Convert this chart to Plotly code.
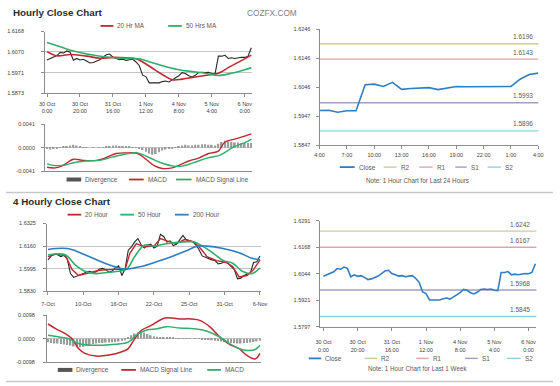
import plotly.graph_objects as go

W, H = 560, 386
FONT = "Liberation Sans, Arial, sans-serif"

# ---------------- colours ----------------
RED = "#c0282d"
GREEN = "#2eaf6a"
BLUE = "#2f7dc2"
BLACK = "#262626"
LEVEL_COLORS = ["#cccc99", "#d9a9a9", "#a59cc6", "#8ed0e3"]
LEVEL_NAMES = ["R2", "R1", "S1", "S2"]

# ---------------- hourly (last week) data ----------------
hours_w = list(range(0, 125, 2))
close_w = [1.6032, 1.6039, 1.6045, 1.6053, 1.6068, 1.6065, 1.6075, 1.6069, 1.6030, 1.6039,
           1.6032, 1.6035, 1.6027, 1.6017, 1.6020, 1.6027, 1.6033, 1.6045, 1.6057, 1.6060,
           1.6045, 1.6039, 1.6033, 1.6035, 1.6030, 1.6033, 1.6035, 1.6022, 1.6004, 1.5959,
           1.5952, 1.5922, 1.5922, 1.5925, 1.5922, 1.5928, 1.5931, 1.5926, 1.5935, 1.5946,
           1.5956, 1.5971, 1.5967, 1.5956, 1.5950, 1.5958, 1.5971, 1.5973, 1.5971, 1.5973,
           1.5967, 1.5965, 1.6050, 1.6050, 1.6054, 1.6039, 1.6042, 1.6039, 1.6042, 1.6045,
           1.6044, 1.6050, 1.6090]
week_tickvals = [0, 20, 40, 60, 80, 100, 120]
week_ticktext = ["30 Oct<br>0:00", "30 Oct<br>20:00", "31 Oct<br>16:00", "1 Nov<br>12:00",
                 "4 Nov<br>8:00", "5 Nov<br>4:00", "6 Nov<br>0:00"]

ma20_hours = [0, 6, 14, 24, 32, 40, 48, 54, 58, 64, 70, 76, 82, 90, 98, 104, 110, 116, 124]
ma20_vals = [1.6072, 1.6052, 1.6058, 1.6050, 1.6040, 1.6044, 1.6042, 1.6038, 1.6022, 1.5992,
             1.5962, 1.5937, 1.5940, 1.5950, 1.5960, 1.5968, 1.5995, 1.6020, 1.6055]
ma50_hours = [0, 8, 16, 26, 36, 46, 56, 64, 72, 80, 88, 96, 104, 112, 120, 124]
ma50_vals = [1.6115, 1.6095, 1.6075, 1.6058, 1.6046, 1.6040, 1.6037, 1.6018, 1.6000, 1.5985,
             1.5976, 1.5968, 1.5957, 1.5968, 1.5985, 1.5995]
p1_ticks = [1.5873, 1.5971, 1.6070, 1.6168]

macd_h_hours = [0, 5, 10, 16, 22, 30, 36, 42, 48, 55, 60, 65, 70, 76, 82, 86, 92, 98, 104, 108,
                114, 120, 124]
macd_h = [-0.0034, -0.0035, -0.0030, -0.0020, -0.0022, -0.0022, -0.0017, -0.0010, -0.0009,
          -0.0010, -0.0020, -0.0031, -0.0036, -0.0035, -0.0028, -0.0023, -0.0018, -0.0010,
          -0.0006, 0.0010, 0.0015, 0.0020, 0.0024]
signal_h_hours = [0, 5, 11, 16, 24, 32, 40, 48, 55, 62, 70, 77, 82, 89, 97, 105, 113, 121, 124]
signal_h = [-0.0028, -0.0031, -0.0030, -0.0026, -0.0023, -0.0022, -0.0016, -0.0011, -0.0009,
            -0.0017, -0.0027, -0.0032, -0.0032, -0.0026, -0.0018, -0.0013, 0.0001, 0.0010, 0.0015]
div_h = [-0.0002, -0.0003, -0.0002, -0.0001, 0.0001, 0.0002, 0.0003, 0.0004,
         0.0005, 0.0004, 0.0002, 0.0001, 0.0001, 0.0000, 0.0001, 0.0000,
         0.0001, 0.0001, 0.0002, 0.0003, 0.0004, 0.0004, 0.0003, 0.0003,
         0.0002, 0.0002, 0.0001, 0.0001, -0.0001, -0.0004, -0.0007, -0.0010,
         -0.0012, -0.0011, -0.0008, -0.0005, -0.0003, -0.0002, -0.0001, 0.0001,
         0.0003, 0.0004, 0.0005, 0.0004, 0.0004, 0.0005, 0.0005, 0.0006,
         0.0006, 0.0005, 0.0005, 0.0004, 0.0007, 0.0010, 0.0012, 0.0011,
         0.0010, 0.0009, 0.0009, 0.0008, 0.0008, 0.0008, 0.0008]
p2_ticks = [-0.0041, 0.0, 0.0041]
p2_ticktext = ["-0.0041", "0.0000", "0.0041"]

# ---------------- last 24 hours ----------------
hours_24 = list(range(0, 25))
close_24 = [1.5966, 1.5967, 1.5960, 1.5965, 1.5965, 1.6055, 1.6057, 1.6049, 1.6063, 1.6039,
            1.6042, 1.6044, 1.6045, 1.6038, 1.6044, 1.6049, 1.6048, 1.6048, 1.6049, 1.6048,
            1.6049, 1.6049, 1.6074, 1.6090, 1.6095]
h24_tickvals = [0, 3, 6, 9, 12, 15, 18, 21, 24]
h24_ticktext = ["4:00", "7:00", "10:00", "13:00", "16:00", "19:00", "22:00", "1:00", "4:00"]
p3_ticks = [1.5847, 1.5947, 1.6046, 1.6146, 1.6246]
levels_24 = [1.6196, 1.6143, 1.5993, 1.5896]

# ---------------- 4 hourly data ----------------
bars_4h = list(range(0, 133, 2))
close_4h = [1.6060, 1.6089, 1.6103, 1.6098, 1.6084, 1.6093, 1.6065, 1.5960, 1.5932, 1.5941,
            1.5951, 1.5960, 1.5974, 1.5977, 1.5965, 1.5974, 1.5993, 1.5998, 1.5989, 1.5970,
            1.5979, 1.6003, 1.6017, 1.5946, 1.5993, 1.6131, 1.6155, 1.6191, 1.6215, 1.6170,
            1.6146, 1.6167, 1.6174, 1.6146, 1.6160, 1.6246, 1.6231, 1.6189, 1.6198, 1.6165,
            1.6174, 1.6208, 1.6239, 1.6208, 1.6198, 1.6193, 1.6170, 1.6136, 1.6089, 1.6079,
            1.6065, 1.6060, 1.6055, 1.6031, 1.6036, 1.6046, 1.6036, 1.6012, 1.5989, 1.5922,
            1.5927, 1.5946, 1.5953, 1.5965, 1.6041, 1.6046, 1.6089]
d4_tickvals = [0, 22, 44, 66, 88, 110, 132]
d4_ticktext = ["7-Oct", "10-Oct", "16-Oct", "22-Oct", "25-Oct", "31-Oct", "6-Nov"]
p4_ticks = [1.5830, 1.5995, 1.6160, 1.6325]

ma20h_bars = [0, 5, 11, 15, 19, 26, 32, 38, 44, 48, 51, 55, 60, 66, 70, 74, 80, 85, 91, 95,
              99, 105, 111, 115, 119, 124, 128, 132]
ma20h_vals = [1.6084, 1.6103, 1.6089, 1.5989, 1.5946, 1.5965, 1.5984, 1.5989, 1.5993, 1.5989,
              1.6108, 1.6179, 1.6155, 1.6160, 1.6215, 1.6198, 1.6179, 1.6208, 1.6191, 1.6143,
              1.6084, 1.6055, 1.6041, 1.6012, 1.5936, 1.5946, 1.5989, 1.6060]
ma50h_bars = [0, 5, 11, 17, 23, 30, 38, 44, 49, 54, 60, 66, 72, 78, 85, 91, 97, 103, 109, 115,
              121, 127, 132]
ma50h_vals = [1.6096, 1.6103, 1.6096, 1.6024, 1.5977, 1.5960, 1.5970, 1.5977, 1.5993, 1.6084,
              1.6167, 1.6160, 1.6174, 1.6184, 1.6191, 1.6191, 1.6155, 1.6108, 1.6055, 1.6036,
              1.5977, 1.5960, 1.6001]
ma200h_bars = [0, 5, 12, 17, 28, 38, 48, 58, 68, 78, 87, 93, 99, 109, 119, 127, 132]
ma200h_vals = [1.6136, 1.6143, 1.6143, 1.6127, 1.6072, 1.6024, 1.5993, 1.6012, 1.6048, 1.6089,
               1.6131, 1.6160, 1.6160, 1.6143, 1.6112, 1.6072, 1.6060]

sig4_bars = [0, 5, 11, 15, 19, 23, 30, 38, 46, 50, 54, 58, 64, 73, 82, 89, 95, 101, 107, 113,
             119, 123, 129, 132]
sig4_vals = [0.0061, 0.0041, 0.0020, 0.0000, -0.0041, -0.0061, -0.0072, -0.0068, -0.0054,
             -0.0041, 0.0000, 0.0034, 0.0054, 0.0086, 0.0082, 0.0082, 0.0075, 0.0048, 0.0007,
             -0.0023, -0.0041, -0.0065, -0.0084, -0.0061]
macd4_bars = [0, 7, 13, 19, 26, 34, 42, 50, 56, 62, 68, 74, 82, 91, 99, 107, 113, 119, 123, 129,
              132]
macd4_vals = [0.0014, 0.0007, 0.0000, -0.0020, -0.0027, -0.0027, -0.0023, -0.0014, 0.0020,
              0.0037, 0.0041, 0.0050, 0.0044, 0.0041, 0.0031, 0.0007, -0.0020, -0.0041, -0.0048,
              -0.0045, -0.0027]
div_4h = [-0.0015, -0.0018, -0.0020, -0.0020, -0.0022, -0.0024, -0.0026, -0.0028, -0.0032, -0.0036,
          -0.0036, -0.0034, -0.0030, -0.0026, -0.0022, -0.0020, -0.0018, -0.0018, -0.0016, -0.0016,
          -0.0015, -0.0014, -0.0012, -0.0010, -0.0006, 0.0004, 0.0014, 0.0022, 0.0027, 0.0030,
          0.0026, 0.0020, 0.0014, 0.0010, 0.0008, 0.0006, 0.0005, 0.0004, 0.0003, 0.0003,
          0.0002, 0.0002, 0.0002, 0.0001, 0.0001, 0.0000, -0.0001, -0.0001, -0.0002, -0.0003,
          -0.0004, -0.0006, -0.0008, -0.0010, -0.0012, -0.0014, -0.0016, -0.0018, -0.0019, -0.0020,
          -0.0020, -0.0019, -0.0018, -0.0016, -0.0014, -0.0011, -0.0008]
p5_ticks = [-0.0098, 0.0, 0.0098]
p5_ticktext = ["-0.0098", "0.0000", "0.0098"]

p6_ticks = [1.5797, 1.5921, 1.6044, 1.6168, 1.6291]
levels_w = [1.6242, 1.6167, 1.5968, 1.5845]


# ---------------- helpers ----------------
def fx(px):
    return px / W


def fy(py):
    return 1 - py / H


def pad(lo, hi):
    e = (hi - lo) * 1e-4
    return [lo - e, hi + e]


TICKFONT = dict(size=5.5, color="#404040", family=FONT)
LEGFONT = dict(size=6.4, color="#595959", family=FONT)
HIST = "#9a9a9a"

fig = go.Figure()

# Panel 1 : hourly close + MAs
fig.add_trace(go.Scatter(x=hours_w, y=close_w, mode="lines", name="Close",
                         line=dict(color=BLACK, width=1.1), xaxis="x", yaxis="y"))
fig.add_trace(go.Scatter(x=ma20_hours, y=ma20_vals, mode="lines", name="20 Hr MA",
                         line=dict(color=RED, width=1.6, shape="spline"), xaxis="x", yaxis="y"))
fig.add_trace(go.Scatter(x=ma50_hours, y=ma50_vals, mode="lines", name="50 Hrs MA",
                         line=dict(color=GREEN, width=1.6, shape="spline"), xaxis="x", yaxis="y"))

# Panel 2 : hourly MACD
fig.add_trace(go.Bar(x=hours_w, y=div_h, name="Divergence", width=1.0,
                     marker=dict(color=HIST, line=dict(width=0)), xaxis="x2", yaxis="y2"))
fig.add_trace(go.Scatter(x=macd_h_hours, y=macd_h, mode="lines", name="MACD",
                         line=dict(color=RED, width=1.4, shape="spline"), xaxis="x2", yaxis="y2"))
fig.add_trace(go.Scatter(x=signal_h_hours, y=signal_h, mode="lines", name="MACD Signal Line",
                         line=dict(color=GREEN, width=1.4, shape="spline"), xaxis="x2", yaxis="y2"))

# Panel 3 : last 24 hours
fig.add_trace(go.Scatter(x=hours_24, y=close_24, mode="lines", name="Close",
                         line=dict(color=BLUE, width=1.6), xaxis="x3", yaxis="y3"))

# Panel 4 : 4 hourly close + MAs
fig.add_trace(go.Scatter(x=bars_4h, y=close_4h, mode="lines", name="Close",
                         line=dict(color=BLACK, width=1.1), xaxis="x4", yaxis="y4"))
fig.add_trace(go.Scatter(x=ma20h_bars, y=ma20h_vals, mode="lines", name="20 Hour",
                         line=dict(color=RED, width=1.4), xaxis="x4", yaxis="y4"))
fig.add_trace(go.Scatter(x=ma50h_bars, y=ma50h_vals, mode="lines", name="50 Hour",
                         line=dict(color=GREEN, width=1.6, shape="spline"), xaxis="x4", yaxis="y4"))
fig.add_trace(go.Scatter(x=ma200h_bars, y=ma200h_vals, mode="lines", name="200 Hour",
                         line=dict(color=BLUE, width=1.6, shape="spline"), xaxis="x4", yaxis="y4"))

# Panel 5 : 4 hourly MACD
fig.add_trace(go.Bar(x=bars_4h, y=div_4h, name="Divergence", width=1.0,
                     marker=dict(color=HIST, line=dict(width=0)), xaxis="x5", yaxis="y5"))
fig.add_trace(go.Scatter(x=sig4_bars, y=sig4_vals, mode="lines", name="MACD Signal Line",
                         line=dict(color=RED, width=1.5, shape="spline"), xaxis="x5", yaxis="y5"))
fig.add_trace(go.Scatter(x=macd4_bars, y=macd4_vals, mode="lines", name="MACD",
                         line=dict(color=GREEN, width=1.5, shape="spline"), xaxis="x5", yaxis="y5"))

# Panel 6 : last week hourly
fig.add_trace(go.Scatter(x=hours_w, y=close_w, mode="lines", name="Close",
                         line=dict(color=BLUE, width=1.6), xaxis="x6", yaxis="y6"))

# ---------------- axes ----------------
base = dict(showline=True, linecolor="#8c8c8c", linewidth=1, ticks="outside", ticklen=3,
            tickcolor="#8c8c8c", tickfont=TICKFONT, showgrid=False, zeroline=False,
            fixedrange=True)

layout_axes = dict(
    xaxis=dict(base, domain=[fx(40), fx(252)], range=[-1.2, 124.5], anchor="y",
               tickmode="array", tickvals=week_tickvals, ticktext=week_ticktext,
               ticklabelstandoff=2),
    yaxis=dict(base, domain=[fy(91.5), fy(29)], range=pad(p1_ticks[0], p1_ticks[-1]),
               anchor="x", tickmode="array", tickvals=p1_ticks,
               ticktext=["%.4f" % v for v in p1_ticks], showgrid=True, gridcolor="#c4c4c4",
               ticklabelstandoff=16),
    xaxis2=dict(base, domain=[fx(40), fx(252)], range=[-1.2, 124.5], anchor="y2",
                showticklabels=False, ticks=""),
    yaxis2=dict(base, domain=[fy(171), fy(123)], range=pad(p2_ticks[0], p2_ticks[-1]),
                anchor="x2", tickmode="array", tickvals=p2_ticks, ticktext=p2_ticktext,
                zeroline=True, zerolinecolor="#c4c4c4", zerolinewidth=1, ticklabelstandoff=5),
    xaxis3=dict(base, domain=[fx(321), fx(545)], range=pad(0, 24), anchor="y3",
                tickmode="array", tickvals=h24_tickvals, ticktext=h24_ticktext,
                ticklabelstandoff=1),
    yaxis3=dict(base, domain=[fy(144.3), fy(26.7)], range=pad(p3_ticks[0], p3_ticks[-1]),
                anchor="x3", tickmode="array", tickvals=p3_ticks,
                ticktext=["%.4f" % v for v in p3_ticks], ticklabelstandoff=4),
    xaxis4=dict(base, domain=[fx(42), fx(261)], range=[-0.6, 132.6], anchor="y4",
                tickmode="array", tickvals=d4_tickvals, ticktext=d4_ticktext,
                ticklabelstandoff=4),
    yaxis4=dict(base, domain=[fy(293), fy(224)], range=pad(p4_ticks[0], p4_ticks[-1]),
                anchor="x4", tickmode="array", tickvals=p4_ticks,
                ticktext=["%.4f" % v for v in p4_ticks], showgrid=True, gridcolor="#c4c4c4",
                ticklabelstandoff=6),
    xaxis5=dict(base, domain=[fx(42), fx(261)], range=[-0.6, 132.6], anchor="y5",
                showticklabels=False, ticks=""),
    yaxis5=dict(base, domain=[fy(365), fy(317)], range=pad(p5_ticks[0], p5_ticks[-1]),
                anchor="x5", tickmode="array", tickvals=p5_ticks, ticktext=p5_ticktext,
                zeroline=True, zerolinecolor="#c4c4c4", zerolinewidth=1, ticklabelstandoff=7),
    xaxis6=dict(base, domain=[fx(321), fx(543)], range=[-2.3, 124.6], anchor="y6",
                tickmode="array", tickvals=week_tickvals, ticktext=week_ticktext,
                ticklabelstandoff=7),
    yaxis6=dict(base, domain=[fy(329), fy(221)], range=pad(p6_ticks[0], p6_ticks[-1]),
                anchor="x6", tickmode="array", tickvals=p6_ticks,
                ticktext=["%.4f" % v for v in p6_ticks], ticklabelstandoff=4),
)

shapes = []
annotations = []

# pivot levels on right charts
for xa, ya, levels, xr in (("x3", "y3", levels_24, 541.7), ("x6", "y6", levels_w, 538.5)):
    for lvl, col in zip(levels, LEVEL_COLORS):
        shapes.append(dict(type="line", xref=xa + " domain", yref=ya, x0=0, x1=1, y0=lvl, y1=lvl,
                           line=dict(color=col, width=1.4), layer="below"))
        annotations.append(dict(xref="paper", yref=ya, x=fx(xr), y=lvl, yshift=7,
                                text="%.4f" % lvl, showarrow=False, xanchor="right",
                                yanchor="middle", font=dict(size=6.5, color="#595959",
                                                            family=FONT)))


def leg_line(x0, x1, y, color, width=1.8):
    shapes.append(dict(type="line", xref="paper", yref="paper", x0=fx(x0), x1=fx(x1),
                       y0=fy(y), y1=fy(y), line=dict(color=color, width=width)))


def leg_text(x, y, text, anchor="left", font=LEGFONT):
    annotations.append(dict(xref="paper", yref="paper", x=fx(x), y=fy(y), text=text,
                            showarrow=False, xanchor=anchor, yanchor="middle", font=font))


# legends (mark start, mark end, text x, y, name, colour, width)
legend_items = [
    (96.7, 110, 112, 23.3, "20 Hr MA", RED, 1.8),
    (166, 180, 182, 23.3, "50 Hrs MA", GREEN, 1.8),
    (62, 77, 79, 179.3, "Divergence", "#555555", 4),
    (126, 141, 143, 179.3, "MACD", RED, 1.8),
    (174, 190, 192, 179.3, "MACD Signal Line", GREEN, 1.8),
    (341.7, 357, 359, 166.7, "Close", BLUE, 1.8),
    (386.7, 400, 402.5, 166.7, LEVEL_NAMES[0], LEVEL_COLORS[0], 1.4),
    (423, 436.7, 439, 166.7, LEVEL_NAMES[1], LEVEL_COLORS[1], 1.4),
    (460, 471.7, 474, 166.7, LEVEL_NAMES[2], LEVEL_COLORS[2], 1.4),
    (493, 506.7, 508.7, 166.7, LEVEL_NAMES[3], LEVEL_COLORS[3], 1.4),
    (63, 77, 79, 215, "20 Hour", RED, 1.8),
    (117, 131, 133, 215, "50 Hour", GREEN, 1.8),
    (173, 187, 189, 215, "200 Hour", BLUE, 1.8),
    (53, 68, 70, 372.7, "Divergence", "#555555", 4),
    (118, 133, 135, 372.7, "MACD Signal Line", RED, 1.8),
    (206, 220, 222, 372.7, "MACD", GREEN, 1.8),
    (310, 322.7, 324.5, 361, "Close", BLUE, 1.8),
    (367, 380, 382, 361, LEVEL_NAMES[0], LEVEL_COLORS[0], 1.4),
    (420, 432.7, 434.7, 361, LEVEL_NAMES[1], LEVEL_COLORS[1], 1.4),
    (470, 483, 485, 361, LEVEL_NAMES[2], LEVEL_COLORS[2], 1.4),
    (513, 527, 529, 361, LEVEL_NAMES[3], LEVEL_COLORS[3], 1.4),
]
for x0, x1, tx, y, name, col, w in legend_items:
    leg_line(x0, x1, y, col, w)
    leg_text(tx, y, name)

NOTEFONT = dict(size=6.3, color="#595959", family=FONT)
leg_text(421.7, 180, "Note: 1 Hour Chart for Last 24 Hours", anchor="center", font=NOTEFONT)
leg_text(421.7, 371, "Note: 1 Hour Chart for Last 1 Week", anchor="center", font=NOTEFONT)

# titles
TITLEFONT = dict(size=9.8, color="#2b2b2b", family=FONT)
leg_text(5, 9.5, "<b>Hourly Close Chart</b>", font=TITLEFONT)
leg_text(5, 202, "<b>4 Hourly Close Chart</b>", font=TITLEFONT)
leg_text(245, 10, "COZFX.COM", font=dict(size=8.3, color="#7f7f7f", family=FONT))

# separators
for y in (192.5, 384.5):
    shapes.append(dict(type="line", xref="paper", yref="paper", x0=0, x1=1, y0=fy(y), y1=fy(y),
                       line=dict(color="#c8c8c8", width=1.5)))

fig.update_layout(
    width=W, height=H, margin=dict(l=0, r=0, t=0, b=0),
    paper_bgcolor="white", plot_bgcolor="white", showlegend=False,
    font=dict(family=FONT), hovermode=False,
    shapes=shapes, annotations=annotations, **layout_axes,
)

fig.write_html("out.html", config={"displayModeBar": False},
               post_script="document.body.style.margin='0';document.body.style.padding='0';")
